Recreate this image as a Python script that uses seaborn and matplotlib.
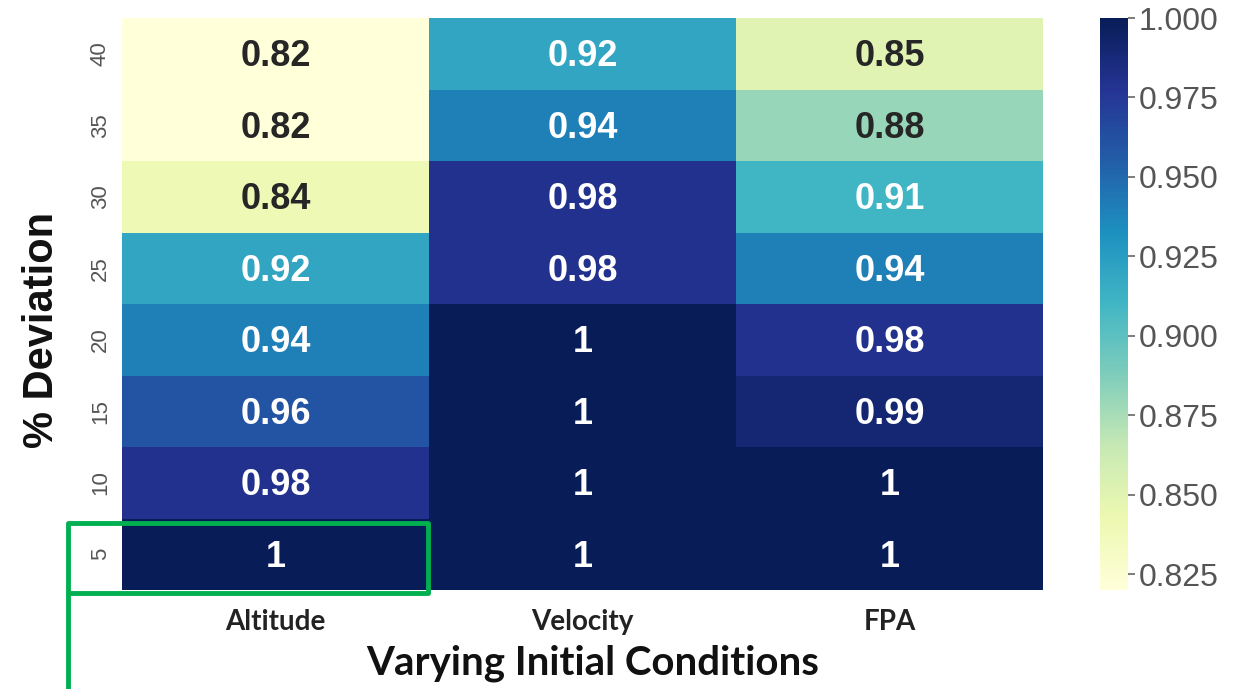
import numpy as np
import pandas as pd
import seaborn as sns
import matplotlib
matplotlib.use("Agg")
import matplotlib.pyplot as plt
from matplotlib.patches import Rectangle

# ---- data ----
deviation = [40, 35, 30, 25, 20, 15, 10, 5]
conditions = ["Altitude", "Velocity", "FPA"]
altitude = [0.82, 0.82, 0.84, 0.92, 0.94, 0.96, 0.98, 1.00]
velocity = [0.92, 0.94, 0.98, 0.98, 1.00, 1.00, 1.00, 1.00]
fpa = [0.85, 0.88, 0.91, 0.94, 0.98, 0.99, 1.00, 1.00]
cbar_ticks = [0.825, 0.850, 0.875, 0.900, 0.925, 0.950, 0.975, 1.000]

df = pd.DataFrame({"Altitude": altitude, "Velocity": velocity, "FPA": fpa},
                  index=deviation)

sns.set_theme(style="white")
plt.rcParams["font.family"] = ["Liberation Sans", "DejaVu Sans"]

W, H = 1246, 689
fig = plt.figure(figsize=(W / 100, H / 100), dpi=100)
ax = fig.add_axes([122 / W, 1 - 590 / H, (1043 - 122) / W, (590 - 18) / H])
cax = fig.add_axes([1100 / W, 1 - 590 / H, 28 / W, (590 - 18) / H])

sns.heatmap(df, ax=ax, cbar_ax=cax, cmap="YlGnBu", annot=True, fmt=".2g",
            annot_kws={"fontsize": 26, "fontweight": "bold"},
            cbar_kws={"ticks": cbar_ticks})

# nudge annotations to match vertical placement
for t in ax.texts:
    x, y = t.get_position()
    t.set_position((x, y + 0.04))

# tick labels
ax.set_yticklabels([str(d) for d in deviation], rotation=90, va="center",
                   fontsize=16, color="#555555")
ax.set_xticklabels(conditions, rotation=0, fontsize=20, fontweight="bold",
                   family=["Lato", "DejaVu Sans"], color="#222222")
ax.tick_params(axis="y", length=0, pad=8)
ax.tick_params(axis="x", length=0, pad=14)
for lbl, dx in zip(ax.get_xticklabels(), [0.03, 0.0, 0.03]):
    lbl.set_x(lbl.get_position()[0] + dx)

ax.set_ylabel("% Deviation", fontsize=30, fontweight="bold", color="#111111")
ax.yaxis.set_label_coords(-0.065, 0.455)
ax.set_xlabel("Varying Initial Conditions", fontsize=29, fontweight="bold",
              family=["Lato", "DejaVu Sans"], color="#111111")
ax.xaxis.set_label_coords(0.511, -0.095)

cax.tick_params(length=5, width=1.2, color="#666666", labelsize=23,
                labelcolor="#555555", pad=3)
cax.set_yticklabels([f"{t:.3f}" for t in cbar_ticks])
for s in cax.spines.values():
    s.set_visible(False)

# green highlight box around the Altitude / 5% cell
green = "#00B050"
box = Rectangle((-0.176, 8.04), 0.176 + 0.997, -0.98, fill=False,
                edgecolor=green, linewidth=3.5, clip_on=False,
                joinstyle="round", transform=ax.transData)
ax.add_patch(box)
ax.plot([-0.176, -0.176], [8.04, 9.40], color=green, linewidth=3.5,
        clip_on=False, solid_capstyle="butt")

fig.savefig("out.png", dpi=100)
